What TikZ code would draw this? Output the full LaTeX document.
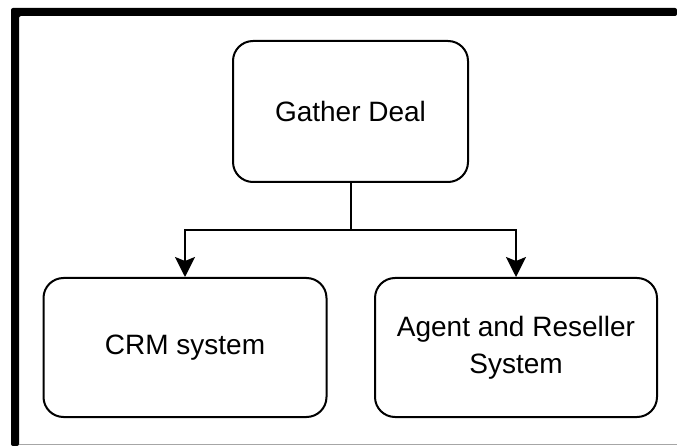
\documentclass[tikz,border=0pt]{standalone}
\usepackage{fontspec}
\setmainfont{Liberation Sans}
\usetikzlibrary{arrows.meta}

\tikzset{
  stepbox/.style={draw=black, line width=2pt, rounded corners=20pt, fill=white,
    align=center, inner sep=0pt, font=\fontsize{28}{37}\selectfont},
  link/.style={draw=black, line width=2pt},
  linkarrow/.style={link, -{Stealth[length=20pt, width=20pt, inset=4pt]}},
}

\begin{document}
\begin{tikzpicture}[x=1pt, y=-1pt]
  % canvas
  \useasboundingbox (0,0) rectangle (677,446);
  \fill[white] (0,0) rectangle (677,446);

  % outer frame: heavy top and left rules, thin base line
  \fill[black, rounded corners=2pt] (11,8) -- (677,8) -- (677,16) -- (19,16) -- (19,446) -- (11,446) -- cycle;
  \draw[gray!70, line width=1pt] (19,444) -- (677,444);

  % process boxes
  \node[stepbox, minimum width=235pt, minimum height=141pt] (gather) at (350.5,111.5) {Gather Deal};
  \node[stepbox, minimum width=283pt, minimum height=139pt] (crm) at (185,347.5) {CRM system};
  \node[stepbox, minimum width=282pt, minimum height=139pt] (agent) at (516,347.5) {Agent and Reseller\\System};

  % branching connector
  \coordinate (split) at (350.5,230);
  \draw[link] (gather.south) -- (split);
  \draw[linkarrow] (split) -| (crm.north);
  \draw[linkarrow] (split) -| (agent.north);
\end{tikzpicture}
\end{document}
